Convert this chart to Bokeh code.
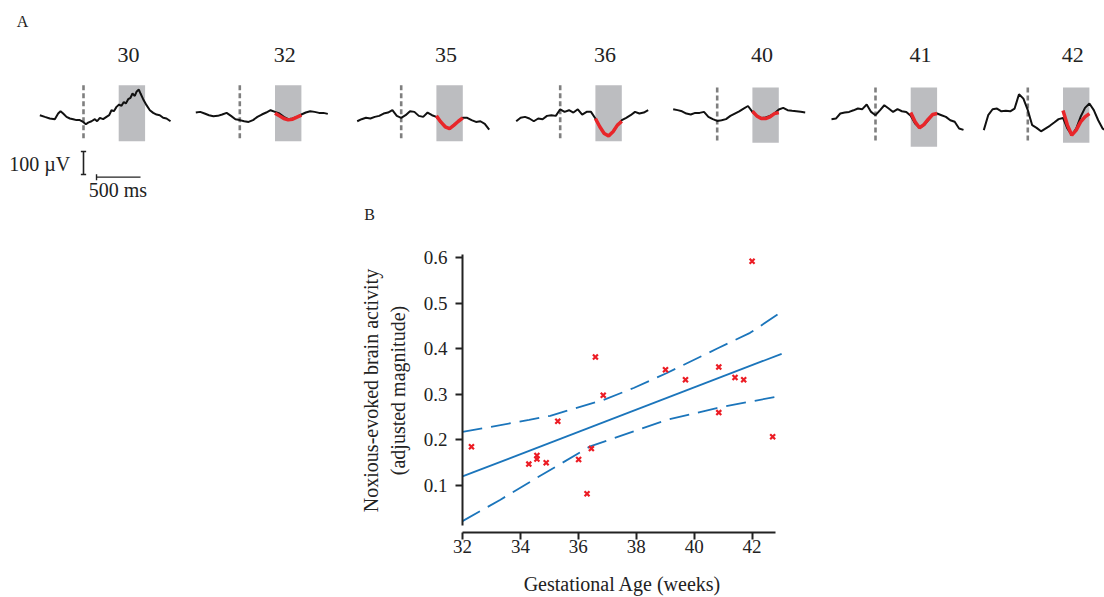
from bokeh.plotting import figure
from bokeh.models import Range1d, FixedTicker
from bokeh.layouts import column
from bokeh.embed import file_html
from bokeh.resources import INLINE
from bokeh.core.properties import value

FONT = "Liberation Serif"

# ---------------- Panel A data (time in ms, amplitude in µV) ----------------
age_labels = ["30", "32", "35", "36", "40", "41", "42"]
t_ms = list(range(-500, 1001, 50))
t_30 = [-496, -439, -383, -326, -288, -261, -231, -193, -155, -117, -80, -42, -4, 27, 53, 91,
        129, 155, 186, 223, 261, 292, 318, 345, 375, 405, 432, 458, 481, 508, 534, 557, 583,
        602, 629, 648, 678, 716, 754, 792, 830, 867, 905, 943, 989]
trace_30 = [-8.7, -16, -23, -26, -1.4, 8.7, -1.4, -16, -23, -26, -30, -30, -38, -48, -41, -35,
            -26, -35, -20, -26, -16, -8.7, 13, 8.7, 27.5, 37.7, 32, 49, 42, 61, 67, 85.5, 75,
            93, 103, 85.5, 61, 35, 13, 1.4, -6, -8.7, -20, -23, -35]
trace_32 = [2.9, 5.8, -1.4, -8.7, -13, -11.6, -5.8, 1.4, -11.6, -26, -30, -35, -38, -30, -16, -5.8,
            2.9, 13, 5.8, -1.4, -16, -26, -23, -16, -5.8, 2.9, 8.7, 5.8, 1.4, 1.4, -2.9]
trace_35 = [-35, -26, -20, -23, -16, -11.6, -1.4, 2.9, 13, -11.6, -20, -8.7, 8.7, 5.8, -11.6, -16,
            2.9, -8.7, -16, -38, -59, -67, -52, -35, -20, -20, -30, -38, -35, -46, -71]
trace_36 = [-35, -20, -16, -23, -35, -23, -26, -11.6, -8.7, -11.6, 17, 5.8, 13, 2.9, 17, -5.8,
            5.8, 5.8, -23, -59, -88, -98.5, -81, -52, -30, -20, -8.7, 5.8, -1.4, 2.9, 13]
trace_40 = [26, 22, 17, 7, 3, 10, 10, 14.5, -7, -17, -25, -22, -17, -3, 7, 17,
            29, 40, 14.5, -3, -12, -10, -3, 7, 25, 32, 22, 19, 17, 14.5, 12]
trace_41 = [-8.7, -6, 16, 20, 23, 30, 38, 35, 55, 23, 8.7, 30, 52, 38, 23, 35,
            26, 23, 6, -27.5, -46, -35, -13, 11.6, 16, 8.7, 1.4, -13, -20, -49, -55]
trace_42 = [-65, 0, 26, 29, 17, 19, 17, 29, 91, 72, 22, -43.5, -55, -70, -58, -46,
            -32, -17, -12, -58, -87, -58, -7, 32, 51, 22, -22, -58, -70, -70, -70]
traces = [trace_30, trace_32, trace_35, trace_36, trace_40, trace_41, trace_42]
trace_times = [t_30] + [t_ms] * 6

red_t = [400, 450, 500, 550, 600, 650, 700]
red_32 = [0, -11.6, -23, -29, -26, -17, -8.7]
red_35 = [-11.6, -38, -59, -67, -52, -35, -20]
red_36 = [-23, -59, -88, -98.5, -81, -52, -35]
red_40 = [17, -3, -14.5, -14.5, -7, 7, 12]
red_41 = [20, -20, -46, -32, -8.7, 11.6, 16]
red_42 = [20, -43, -87, -65, -29, -7, 7]
reds = [None, red_32, red_35, red_36, red_40, red_41, red_42]

window_ms = (400, 700)

# ---------------- Panel B data ----------------
gest_age = [32.31, 34.29, 34.57, 34.57, 34.89, 35.29, 36.01, 36.30, 36.45, 36.59, 36.86,
            39.01, 39.70, 40.85, 40.85, 41.41, 41.71, 42.00, 42.71]
magnitude = [0.185, 0.147, 0.166, 0.158, 0.150, 0.241, 0.157, 0.082, 0.181, 0.382, 0.298,
             0.354, 0.332, 0.360, 0.260, 0.337, 0.332, 0.592, 0.207]
fit_age = [32.0, 43.02]
fit_val = [0.120, 0.389]
ci_up_age = [32.0, 34.3, 35.03, 36.87, 37.91, 39.06, 40.78, 41.93, 43.02]
ci_up_val = [0.2175, 0.244, 0.253, 0.288, 0.314, 0.347, 0.400, 0.435, 0.481]
ci_lo_age = [32.0, 33.31, 34.57, 36.41, 37.91, 39.06, 40.78, 41.93, 43.02]
ci_lo_val = [0.022, 0.069, 0.117, 0.186, 0.219, 0.244, 0.270, 0.284, 0.297]

# ---------------- layout constants ----------------
MS_PER_PX = 1 / 0.088
UV_PER_PX = 1 / 0.23
W = 1104
HA = 225
HB = 372
dash_px = [83, 239.3, 400.7, 559.7, 716.7, 875, 1027.3]
offsets = [d * MS_PER_PX for d in dash_px]
centers = [0, 0, 0, 0, -8.7, -17.4, -8.7]
half_h = [122, 122, 122, 122, 120, 129, 120]
zero_px = 112.7

pA = figure(width=W, height=HA, output_backend="svg", toolbar_location=None,
            x_range=Range1d(0, W * MS_PER_PX),
            y_range=Range1d(-(HA - zero_px) * UV_PER_PX, zero_px * UV_PER_PX),
            x_axis_location=None, y_axis_location=None, min_border=0)
pA.grid.visible = False
pA.outline_line_color = None

GREY_BOX = "#bcbdc0"
for i, tr in enumerate(traces):
    off, c, hh = offsets[i], centers[i], half_h[i]
    pA.quad(left=off + window_ms[0], right=off + window_ms[1], bottom=c - hh, top=c + hh,
            fill_color=GREY_BOX, line_color=None)
    pA.segment(x0=off, y0=c + hh, x1=off, y1=c + hh - 236, line_color="#7f7f7f",
               line_width=2.6, line_dash="5 3")
    pA.line([off + t for t in trace_times[i]], [c + v for v in tr], line_color="#111111",
            line_width=2)
    if reds[i] is not None:
        pA.line([off + t for t in red_t], [c + v for v in reds[i]], line_color="#e8262a",
                line_width=3.5)

pA.text(x=[off + 510 for off in offsets], y=[251] * 7, text=age_labels,
        text_font=value(FONT), text_font_size="22px", text_align="center",
        text_baseline="middle", text_color="#222222")

# scale bars
o1 = offsets[0]
pA.segment(x0=[o1], y0=[-166.5], x1=[o1], y1=[-266.5], line_color="#222222", line_width=1.6)
pA.segment(x0=[o1 - 30, o1 - 30], y0=[-166.5, -266.5], x1=[o1 + 30, o1 + 30],
           y1=[-166.5, -266.5], line_color="#222222", line_width=1.6)
pA.segment(x0=[o1 + 148], y0=[-278], x1=[o1 + 648], y1=[-278], line_color="#222222", line_width=1.4)
pA.segment(x0=[o1 + 148, o1 + 648], y0=[-265], x1=[o1 + 148, o1 + 648], y1=[-291],
           line_color="#222222", line_width=1.4)
pA.text(x=[o1 - 150], y=[-219], text=["100 µV"], text_font=value(FONT), text_font_size="20px",
        text_align="right", text_baseline="middle", text_color="#222222")
pA.text(x=[o1 + 390], y=[-336], text=["500 ms"], text_font=value(FONT), text_font_size="20px",
        text_align="center", text_baseline="middle", text_color="#222222")

# panel letters (page positions converted into panel-A data coordinates)
pA.text(x=[22 * MS_PER_PX, 369 * MS_PER_PX], y=[(zero_px - 21) * UV_PER_PX, (zero_px - 214) * UV_PER_PX],
        text=["A", "B"], text_font=value(FONT), text_font_size="16px", text_align="center",
        text_baseline="middle", text_color="#222222")

# ---------------- Panel B ----------------
pB = figure(width=W, height=HB, output_backend="svg", toolbar_location=None,
            x_range=Range1d(32, 43.05), y_range=Range1d(-0.003, 0.62))
pB.min_border_left = 462
pB.min_border_right = 322
pB.min_border_top = 23
pB.min_border_bottom = 64
pB.grid.visible = False
pB.outline_line_color = None

BLUE = "#1b75bb"
pB.line(ci_up_age, ci_up_val, line_color=BLUE, line_width=1.8, line_dash="20 9")
pB.line(ci_lo_age, ci_lo_val, line_color=BLUE, line_width=1.8, line_dash="20 9")
pB.line(fit_age, fit_val, line_color=BLUE, line_width=1.8)
pB.scatter(gest_age, magnitude, marker="x", size=7, line_width=2.2, line_color="#ec1c24")

for ax in (pB.xaxis[0], pB.yaxis[0]):
    ax.axis_line_width = 2
    ax.axis_line_color = "#222222"
    ax.major_tick_line_width = 2
    ax.major_tick_line_color = "#222222"
    ax.major_tick_out = 7
    ax.major_tick_in = 0
    ax.minor_tick_line_color = None
    ax.major_label_text_font = FONT
    ax.major_label_text_font_size = "19px"
    ax.major_label_text_color = "#222222"
    ax.axis_label_text_font = FONT
    ax.axis_label_text_font_size = "20px"
    ax.axis_label_text_font_style = "normal"
    ax.axis_label_text_color = "#222222"

pB.xaxis.ticker = FixedTicker(ticks=[32, 34, 36, 38, 40, 42])
pB.xaxis.bounds = (32, 42.8)
pB.xaxis.major_label_standoff = 0
pB.xaxis.axis_label = "Gestational Age (weeks)"
pB.xaxis.axis_label_standoff = 17

pB.yaxis.ticker = FixedTicker(ticks=[0.1, 0.2, 0.3, 0.4, 0.5, 0.6])
pB.yaxis.bounds = (0.0125, 0.607)
pB.yaxis.major_label_standoff = 8
pB.yaxis.axis_label = "Noxious-evoked brain activity\n(adjusted magnitude)"
pB.yaxis.axis_label_standoff = 12

for p in (pA, pB):
    try:
        p.frame_align = False
    except Exception:
        pass

layout = column(pA, pB)
open("out.html", "w").write(file_html(layout, INLINE))
